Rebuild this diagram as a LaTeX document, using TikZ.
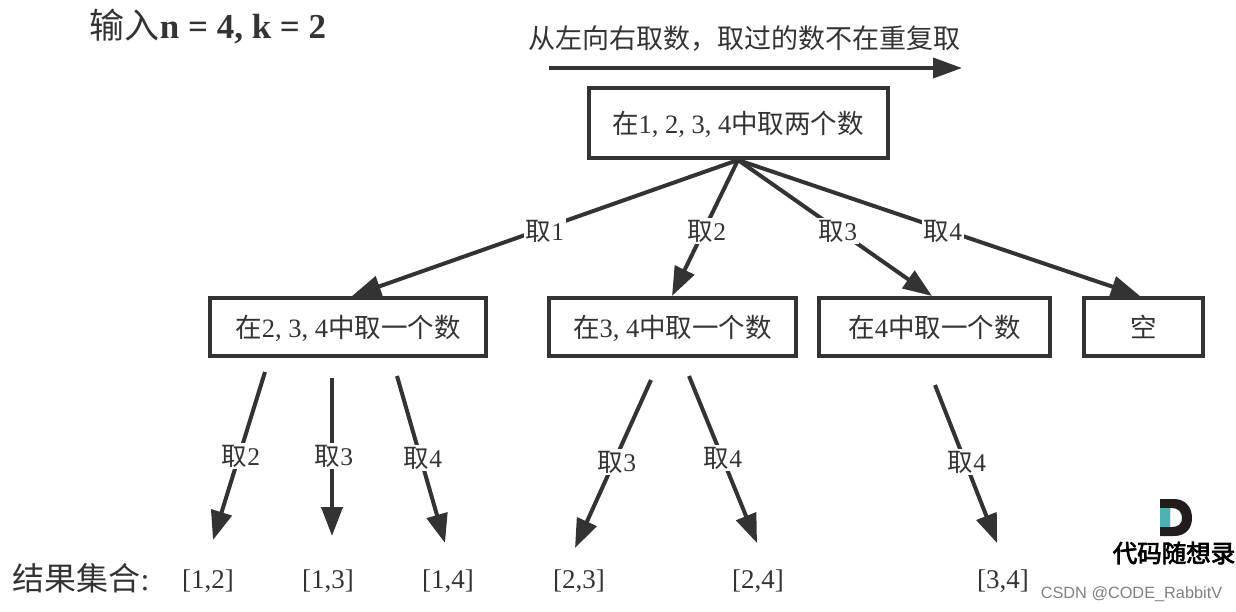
\documentclass[tikz,border=0pt]{standalone}
\usepackage{fontspec}
\setmainfont{Liberation Serif}
\setsansfont{Liberation Sans}
\newfontfamily\cjk{Noto Sans CJK SC}
\newfontfamily\cjkbold{Noto Sans CJK SC}[FakeBold=3]
\usetikzlibrary{arrows.meta}
\definecolor{ink}{HTML}{333333}
\tikzset{
  x=1pt,y=-1pt,
  box/.style={draw=ink,line width=4pt,fill=white,inner sep=0pt,outer sep=0pt,anchor=center,text=ink,align=center,font=\fontsize{26.5}{26.5}\selectfont},
  conn/.style={draw=ink,line width=4pt,-{Triangle[length=29pt,width=21pt]}},
  lbl/.style={fill=white,text=ink,inner sep=2pt,font=\fontsize{25.5}{25.5}\selectfont},
  res/.style={text=ink,inner sep=0pt,font=\fontsize{27}{27}\selectfont},
}
\newcommand{\C}[1]{{\cjk #1}}
\newcommand{\T}[1]{\raisebox{-10.5pt}[0pt][0pt]{#1}}
\begin{document}
\begin{tikzpicture}
\useasboundingbox (0,0) rectangle (1236,611);
\node[text=ink,inner sep=0pt,font=\fontsize{35}{35}\selectfont\bfseries] (title) at (208,26) {{\mdseries\cjk 输入}n = 4, k = 2};
\node[text=ink,inner sep=0pt,font=\fontsize{27}{27}\selectfont] (hint) at (744,39) {\C{从左向右取数，取过的数不在重复取}};
\coordinate (ha) at (549,68);
\coordinate (hb) at (962,68);
\draw[draw=ink,line width=4pt,-{Triangle[length=29pt,width=20pt]}] (ha) -- (hb);

\node[box,minimum width=299pt,minimum height=70pt] (root) at (738,122.5) {\T{\C{在}1, 2, 3, 4\C{中取两个数}}};
\node[box,minimum width=276pt,minimum height=58pt] (b1) at (348,326.5) {\T{\C{在}2, 3, 4\C{中取一个数}}};
\node[box,minimum width=247pt,minimum height=58pt] (b2) at (672.5,326.5) {\T{\C{在}3, 4\C{中取一个数}}};
\node[box,minimum width=231pt,minimum height=58pt] (b3) at (934.5,326.5) {\T{\C{在}4\C{中取一个数}}};
\node[box,minimum width=119pt,minimum height=58pt] (b4) at (1143.5,326.5) {\T{\C{空}}};

\coordinate (r) at (738,160);
\coordinate (t1) at (352,296);
\coordinate (t2) at (672,296);
\coordinate (t3) at (932,296);
\coordinate (t4) at (1140,296);
\draw[conn] (r) -- (t1);
\draw[conn] (r) -- (t2);
\draw[conn] (r) -- (t3);
\draw[conn] (r) -- (t4);
\node[lbl] (l1) at (545,231) {\C{取}1};
\node[lbl] (l2) at (707,231) {\C{取}2};
\node[lbl] (l3) at (838,231) {\C{取}3};
\node[lbl] (l4) at (943,231) {\C{取}4};

\coordinate (s1) at (265,372); \coordinate (e1) at (213,540);
\coordinate (s2) at (332,378); \coordinate (e2) at (332,536);
\coordinate (s3) at (397,376); \coordinate (e3) at (445,543);
\coordinate (s4) at (651,380); \coordinate (e4) at (575,548);
\coordinate (s5) at (689,376); \coordinate (e5) at (757,543);
\coordinate (s6) at (935,385); \coordinate (e6) at (997,543);
\draw[conn] (s1) -- (e1);
\draw[conn] (s2) -- (e2);
\draw[conn] (s3) -- (e3);
\draw[conn] (s4) -- (e4);
\draw[conn] (s5) -- (e5);
\draw[conn] (s6) -- (e6);
\node[lbl] (m1) at (241,456) {\C{取}2};
\node[lbl] (m2) at (334,456) {\C{取}3};
\node[lbl] (m3) at (423,458) {\C{取}4};
\node[lbl] (m4) at (617,462) {\C{取}3};
\node[lbl] (m5) at (723,458) {\C{取}4};
\node[lbl] (m6) at (967,462) {\C{取}4};

\node[res,font=\fontsize{32}{32}\selectfont] (rt) at (81,578) {\C{结果集合}:};
\node[res] (r1) at (208,581) {[1,2]};
\node[res] (r2) at (328,581) {[1,3]};
\node[res] (r3) at (448,581) {[1,4]};
\node[res] (r4) at (579,581) {[2,3]};
\node[res] (r5) at (758,581) {[2,4]};
\node[res] (r6) at (1003,581) {[3,4]};

% logo
\fill[fill={rgb,255:red,35;green,28;blue,28},even odd rule] (1160,499) -- (1174,499) .. controls (1186,499) and (1192,508) .. (1192,518) .. controls (1192,528) and (1186,536) .. (1174,536) -- (1160,536) -- cycle (1170,508) -- (1172,508) .. controls (1178,508) and (1182,512) .. (1182,518) .. controls (1182,524) and (1178,527) .. (1172,527) -- (1170,527) -- cycle;
\fill[fill={rgb,255:red,78;green,178;blue,180}] (1160,508) rectangle (1170,527);
\node[inner sep=0pt,text=black,font=\fontsize{24.5}{24.5}\selectfont] (logo) at (1174,553) {\cjkbold 代码随想录};
\node[inner sep=0pt,text=gray,font=\sffamily\fontsize{16.3}{16.3}\selectfont] (wm) at (1131.5,594) {CSDN @CODE\_RabbitV};
\end{tikzpicture}
\end{document}
